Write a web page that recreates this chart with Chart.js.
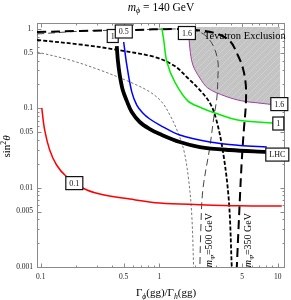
<!DOCTYPE html>
<html>
<head>
<meta charset="utf-8">
<script src="https://cdn.jsdelivr.net/npm/chart.js@4.4.0/dist/chart.umd.min.js"></script>
<style>
  html, body { margin: 0; padding: 0; background: #fff; }
</style>
</head>
<body>
<canvas id="myChart" width="291" height="300"></canvas>
<script>
// Axis ticks
const xTicks = [0.1, 0.5, 1, 5, 10]
const xTickLabels = ["0.1", "0.5", "1", "5", "10"]
const xMinor = [0.2, 0.3, 0.4, 0.6, 0.7, 0.8, 0.9, 2, 3, 4, 6, 7, 8, 9]
const yTicks = [1, 0.5, 0.1, 0.05, 0.01, 0.005, 0.001]
const yTickLabels = ["1.", "0.5", "0.1", "0.05", "0.01", "0.005", "0.001"]
const yMinor = [0.002, 0.003, 0.004, 0.006, 0.007, 0.008, 0.009,
  0.02, 0.03, 0.04, 0.06, 0.07, 0.08, 0.09,
  0.2, 0.3, 0.4, 0.6, 0.7, 0.8, 0.9]

// Contours
const redX = [0.102, 0.108, 0.119, 0.136, 0.163, 0.226, 0.315, 0.564, 1.01, 2.2, 4.78, 10.8]
const redY = [0.101, 0.053, 0.0298, 0.0193, 0.014, 0.0099, 0.0083, 0.00718, 0.0064, 0.0061, 0.0059, 0.00586]

const lhcX = [0.438, 0.447, 0.464, 0.492, 0.532, 0.586, 0.684, 0.832, 1.01, 1.49, 2.2, 3.94, 8.08]
const lhcY = [0.61, 0.406, 0.263, 0.17, 0.124, 0.0898, 0.0672, 0.0548, 0.0474, 0.0376, 0.0325, 0.0298, 0.0281]

const blueX = [0.501, 0.532, 0.586, 0.646, 0.726, 0.832, 1.01, 1.49, 2.67, 4.78, 8.08]
const blueY = [0.686, 0.352, 0.161, 0.11, 0.0873, 0.0733, 0.0615, 0.046, 0.0376, 0.034, 0.0325]

const greenX = [1.05, 1.09, 1.16, 1.35, 1.74, 2.28, 2.94, 4.59, 9.08]
const greenY = [1.03, 0.727, 0.383, 0.215, 0.124, 0.101, 0.0873, 0.0712, 0.0653]

// Tevatron exclusion boundary, filled up to tevTop
const tevX = [1.76, 1.77, 1.81, 1.92, 2.2, 2.57, 3.57, 4.97, 6.78, 9.81, 10.5]
const tevY = [1.06, 0.944, 0.576, 0.352, 0.241, 0.18, 0.143, 0.124, 0.117, 0.11, 0.109]
const tevTop = 1.06

// dashed curves
const aX = [0.093, 0.235, 0.447, 0.916, 1.35, 1.74, 2.2, 2.67, 3.0, 3.43, 3.86, 4.09]
const aY = [0.727, 0.628, 0.543, 0.443, 0.341, 0.241, 0.17, 0.117, 0.0755, 0.0298, 0.00698, 0.001]

const m350X = [0.093, 0.213, 0.564, 1.43, 2.03, 2.94, 3.94, 4.59, 5.07, 5.37, 5.37, 5.17, 4.97, 4.78, 4.51]
const m350Y = [0.917, 0.944, 0.971, 1.0, 0.971, 0.89, 0.706, 0.47, 0.322, 0.197, 0.11, 0.0532, 0.0223, 0.00698, 0.001]

const m500X = [0.093, 0.235, 0.564, 1.43, 2.03, 2.42, 2.83, 3.12, 3.12, 3.06, 2.88, 2.67, 2.33, 2.24, 2.2]
const m500Y = [0.865, 0.944, 0.971, 1.0, 0.944, 0.84, 0.628, 0.395, 0.241, 0.135, 0.0755, 0.0325, 0.0093, 0.0029, 0.001]

const dX = [0.093, 0.176, 0.315, 0.564, 0.832, 1.05, 1.23, 1.41, 1.61, 1.77, 1.88, 1.95]
const dY = [0.513, 0.406, 0.304, 0.215, 0.161, 0.12, 0.0823, 0.0532, 0.0298, 0.0125, 0.0045, 0.001]

// contour labels (boxed)
const boxTexts = ["0.1", "1", "0.5", "1.6", "1.6", "1", "LHC"]
const boxX = [0.192, 0.405, 0.502, 1.71, 10.3, 10.1, 9.9]
const boxY = [0.0114, 0.816, 0.93, 0.89, 0.113, 0.0643, 0.0261]

const toPoints = (xs, ys) => xs.map((x, i) => ({ x: x, y: ys[i] }))

const SERIF = '"Liberation Serif", "DejaVu Serif", serif'

// hatched gray for the exclusion area
function hatch() {
    const c = document.createElement("canvas")
    c.width = 7
    c.height = 7
    const p = c.getContext("2d")
    p.fillStyle = "#c4c4c4"
    p.fillRect(0, 0, 7, 7)
    p.strokeStyle = "#d4d4d4"
    p.lineWidth = 0.7
    p.beginPath()
    p.moveTo(0, 7)
    p.lineTo(7, 0)
    p.stroke()
    return document.getElementById("myChart").getContext("2d").createPattern(c, "repeat")
}

// text with italic / subscript / superscript pieces
function partFont(st, size) {
    const small = st.startsWith("sub") || st.startsWith("sup")
    const s = small ? size * 0.7 : size
    return (st.endsWith("i") ? "italic " : "") + s + "px " + SERIF
}
function drawRich(ctx, parts, x, y, size) {
    let w = 0
    parts.forEach(([t, st]) => { ctx.font = partFont(st, size); w += ctx.measureText(t).width })
    let cx = x - w / 2
    ctx.textAlign = "left"
    ctx.textBaseline = "alphabetic"
    parts.forEach(([t, st]) => {
        ctx.font = partFont(st, size)
        let dy = 0
        if (st.startsWith("sub")) dy = size * 0.25
        if (st.startsWith("sup")) dy = -size * 0.38
        ctx.fillText(t, cx, y + dy)
        cx += ctx.measureText(t).width
    })
}

const framePlugin = {
    id: "frame",
    beforeDatasetsDraw(chart) {
        const { ctx, chartArea: a, scales } = chart
        ctx.save()
        ctx.strokeStyle = "#8a8a8a"
        ctx.lineWidth = 1
        ctx.strokeRect(a.left + 0.5, a.top + 0.5, a.right - a.left - 1, a.bottom - a.top - 1)
        ctx.beginPath()
        const tick = (v, len, axis) => {
            if (axis === "x") {
                const px = Math.round(scales.x.getPixelForValue(v)) + 0.5
                ctx.moveTo(px, a.bottom); ctx.lineTo(px, a.bottom - len)
                ctx.moveTo(px, a.top); ctx.lineTo(px, a.top + len)
            } else {
                const py = Math.round(scales.y.getPixelForValue(v)) + 0.5
                ctx.moveTo(a.left, py); ctx.lineTo(a.left + len, py)
                ctx.moveTo(a.right, py); ctx.lineTo(a.right - len, py)
            }
        }
        xTicks.forEach(v => tick(v, 4.5, "x"))
        xMinor.forEach(v => tick(v, 2.5, "x"))
        yTicks.forEach(v => tick(v, 4.5, "y"))
        yMinor.forEach(v => tick(v, 2.5, "y"))
        ctx.stroke()

        // tick labels
        ctx.fillStyle = "#222"
        ctx.font = "7.5px " + SERIF
        ctx.textAlign = "center"
        ctx.textBaseline = "middle"
        xTicks.forEach((v, i) => ctx.fillText(xTickLabels[i], scales.x.getPixelForValue(v), a.bottom + 9.5))
        ctx.textAlign = "right"
        yTicks.forEach((v, i) => ctx.fillText(yTickLabels[i], a.left - 4, scales.y.getPixelForValue(v)))

        // titles
        ctx.fillStyle = "#000"
        drawRich(ctx, [["m", "i"], ["\u03D5", "subi"], [" = 140 GeV", ""]], 161, 10.5, 11.5)
        drawRich(ctx, [["\u0393", ""], ["\u03D5", "subi"], ["(gg)/\u0393", ""], ["h", "subi"], ["(gg)", ""]], 166, 296, 11)
        ctx.save()
        ctx.translate(10, 146.5)
        ctx.rotate(-Math.PI / 2)
        drawRich(ctx, [["sin", ""], ["2", "sup"], ["\u03B8", "i"]], 0, 0, 11)
        ctx.restore()
        ctx.restore()
    },
    afterDatasetsDraw(chart) {
        const { ctx, scales } = chart
        ctx.save()
        ctx.fillStyle = "#000"
        // region and mass labels
        drawRich(ctx, [["Tevatron Exclusion", ""]], scales.x.getPixelForValue(5.27), scales.y.getPixelForValue(0.816) + 3.5, 10.5)
        const massLabels = [["500", 2.62], ["350", 5.58]]
        massLabels.forEach(([m, xv]) => {
            ctx.save()
            ctx.translate(scales.x.getPixelForValue(xv), scales.y.getPixelForValue(0.00218))
            ctx.rotate(-Math.PI / 2)
            drawRich(ctx, [["m", "i"], ["\u03A8", "subi"], ["=" + m + " GeV", ""]], 0, 3.5, 10)
            ctx.restore()
        })
        // contour boxes
        ctx.font = "8px " + SERIF
        boxTexts.forEach((t, i) => {
            const cx = scales.x.getPixelForValue(boxX[i])
            const cy = scales.y.getPixelForValue(boxY[i])
            ctx.font = "8px " + SERIF
            const w = ctx.measureText(t).width + 7
            const h = 13
            ctx.fillStyle = "#fff"
            ctx.fillRect(cx - w / 2, cy - h / 2, w, h)
            ctx.strokeStyle = "#111"
            ctx.lineWidth = 1.2
            ctx.strokeRect(cx - w / 2, cy - h / 2, w, h)
            ctx.fillStyle = "#111"
            ctx.textAlign = "center"
            ctx.textBaseline = "middle"
            ctx.fillText(t, cx, cy + 0.5)
        })
        ctx.restore()
    }
}

const line = (xs, ys, extra) => Object.assign({
    data: toPoints(xs, ys),
    showLine: true,
    pointRadius: 0,
    tension: 0.35,
    fill: false
}, extra)

const config = {
    type: "scatter",
    data: {
        datasets: [
            line(lhcX, lhcY, { borderColor: "#000", borderWidth: 3.8 }),
            line(blueX, blueY, { borderColor: "#0000ff", borderWidth: 1.5 }),
            line(greenX, greenY, { borderColor: "#00ee00", borderWidth: 1.5 }),
            line(redX, redY, { borderColor: "#ff0000", borderWidth: 1.5 }),
            line(aX, aY, { borderColor: "#000", borderWidth: 1.8, borderDash: [4, 2] }),
            line(m350X, m350Y, { borderColor: "#000", borderWidth: 2, borderDash: [9, 5] }),
            line(m500X, m500Y, { borderColor: "#444", borderWidth: 1, borderDash: [7, 4] }),
            line(dX, dY, { borderColor: "#666", borderWidth: 0.9, borderDash: [2.5, 2] }),
            line(tevX, tevY, { borderColor: "#a040a0", borderWidth: 1, backgroundColor: hatch(), fill: { value: tevTop }, order: 10 })
        ]
    },
    options: {
        responsive: false,
        animation: false,
        layout: { padding: { left: 37, right: 6, top: 23, bottom: 32 } },
        plugins: { legend: { display: false }, tooltip: { enabled: false } },
        scales: {
            x: { type: "logarithmic", min: 0.093, max: 11.5, display: false },
            y: { type: "logarithmic", min: 0.00097, max: 1.19, display: false }
        }
    },
    plugins: [framePlugin]
}

new Chart(document.getElementById("myChart"), config)
</script>
</body>
</html>
